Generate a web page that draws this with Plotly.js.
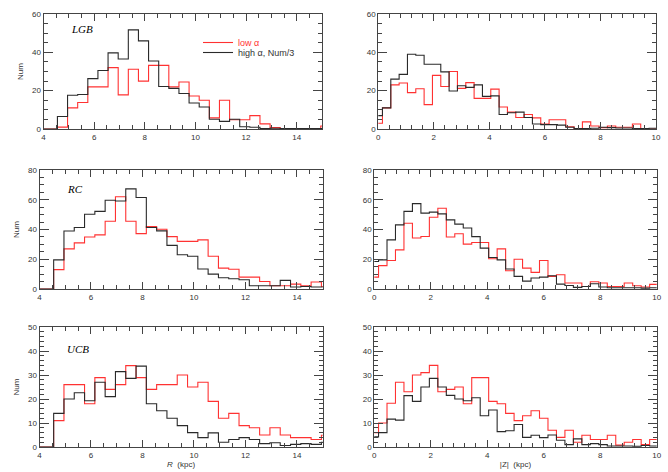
<!DOCTYPE html>
<html>
<head>
<meta charset="utf-8">
<script src="https://cdn.plot.ly/plotly-3.0.1.min.js"></script>
<style>
  html, body { margin: 0; padding: 0; background: #fff; }
  #chart { width: 668px; height: 472px; }
</style>
</head>
<body>
<div id="chart"></div>
<script>
// bin edges (kpc)
var rEdges = [3.75, 4.15, 4.55, 4.95, 5.35, 5.75, 6.15, 6.55, 6.95, 7.35, 7.75, 8.15, 8.55, 8.95, 9.35,
  9.75, 10.15, 10.55, 10.95, 11.35, 11.75, 12.15, 12.55, 12.95, 13.35, 13.75, 14.15, 14.55, 14.95, 15.35];
var zEdges = [-0.15, 0.15, 0.45, 0.75, 1.05, 1.35, 1.65, 1.95, 2.25, 2.55, 2.85, 3.15, 3.45, 3.75, 4.05,
  4.35, 4.65, 4.95, 5.25, 5.55, 5.85, 6.15, 6.45, 6.75, 7.05, 7.35, 7.65, 7.95, 8.25, 8.55, 8.85,
  9.15, 9.45, 9.75, 10.05];

// LGB
var lgbRLow  = [0, 0, 1, 11, 13.8, 22, 22, 32, 17.8, 31.2, 25, 33.2, 33.2, 22, 24.5, 17.2, 15, 5.8, 15,
  4.8, 4.8, 7, 2.7, 0.7, 0, 0.3, 0.3, 0, 1.6];
var lgbRHigh = [0, 0, 6.5, 17.6, 18, 26.3, 30.5, 39.7, 36.5, 51.7, 46, 35.5, 22.2, 21.2, 18.5, 13.6, 11.5,
  5.1, 4, 5.1, 1.2, 0.9, 0.3, 0.4, 0.3, 0.3, 0.2, 0.3, 0.3];
var lgbZLow  = [3, 11, 23, 24, 19, 21, 12.7, 28, 22.2, 30, 21.2, 24.2, 16, 16, 20.8, 11.5, 8.8, 6, 7.6,
  5.8, 2.6, 4.8, 4.8, 1.2, 0, 3.7, 1.6, 0.7, 1.6, 0.9, 0.9, 2.6, 0, 0];
var lgbZHigh = [7, 11, 26, 28.5, 39, 38.5, 33.8, 33.8, 29.8, 19.8, 22.6, 21.7, 23, 17, 17.3, 7.6, 8.5,
  8.8, 6, 2.6, 2.3, 2.3, 2, 0.9, 0.2, 0.2, 0.4, 0.9, 0.7, 0.5, 0.5, 0.2, 0.2, 0.4];

// RC
var rcRLow  = [0, 0, 13, 27, 31, 35, 36.4, 45.5, 62, 45.5, 37.2, 42, 40.2, 35.2, 32, 32, 33, 22, 14, 13.3,
  8, 8, 5, 2.2, 2.2, 3.3, 2.2, 4.7, 1.7];
var rcRHigh = [0, 0, 19.6, 39, 41.3, 50.3, 52.2, 59.7, 59.2, 67.3, 61.5, 41.3, 39.1, 29.3, 23, 22, 13.4,
  10, 7.6, 6.9, 6.2, 2.2, 2.2, 2.2, 5.8, 1.3, 1.7, 1.3, 1.3];
var rcZLow  = [8, 15.7, 19.2, 26.3, 44.2, 34.3, 35.3, 48.2, 54.3, 35, 37.1, 30.2, 31.3, 31.3, 20.3, 27,
  12.3, 20, 14, 11.2, 19.2, 8.5, 9.6, 4, 4, 1.7, 4.9, 4, 1.7, 1.7, 4, 2.2, 1.3, 3.1];
var rcZHigh = [18.5, 19.6, 33, 43.1, 52.2, 57.4, 51, 51.7, 50.5, 46.5, 43.6, 41, 35.2, 27.5, 21.2, 19.6,
  13.4, 8.5, 5.3, 7.4, 8, 8.9, 3.3, 2.4, 1.1, 1.7, 3.5, 1.3, 0.8, 0.8, 0.8, 0.8, 0.6, 0.8];

// UCB
var ucbRLow  = [0, 0, 11, 26, 26, 18, 28.9, 24, 26, 33.9, 28.9, 24, 26, 26, 30, 25, 27, 19, 12, 14, 8.9,
  8, 5, 8, 5, 3.9, 3.9, 3.1, 4.9];
var ucbRHigh = [0, 0, 14, 20, 22.6, 19.3, 27, 21, 31.4, 28.6, 33.7, 18, 15.1, 12, 8.9, 6, 3.9, 5.9, 2,
  3.1, 3.9, 3.1, 1.4, 1.8, 0.6, 1.1, 1.4, 1.1, 2];
var ucbZLow  = [6, 10, 18.2, 27, 23, 30, 31, 34, 23, 24, 25, 18, 28.9, 28.9, 19, 18, 14, 11, 13, 15.1,
  12, 7, 4, 7, 2, 4.9, 3.1, 3.1, 4.9, 0.8, 2, 3.1, 1, 3.1];
var ucbZHigh = [4.2, 6, 11.6, 11.2, 21.4, 19, 25, 28.6, 25, 21.5, 20, 19.3, 20.5, 13, 15.4, 6.4, 6.8,
  9.4, 4, 4.9, 3.9, 5, 2.8, 1, 3.4, 1, 1.4, 1, 0.4, 0.4, 0.4, 0.3, 0.6, 0.4];

var panelNames = ['LGB', 'RC', 'UCB'];
var yMax = [60, 80, 50];
var yMajor = [20, 20, 10];
var yMinor = [5, 5, 2];

var RED = 'rgb(255,50,50)';
var BLK = '#2a2a2a';

function stepY(counts) {
  return counts.concat([counts[counts.length - 1]]);
}

function histTrace(edges, counts, color, ax, name, legend) {
  return {
    x: edges, y: stepY(counts),
    type: 'scatter', mode: 'lines',
    line: { shape: 'hv', color: color, width: 1.1 },
    xaxis: 'x' + ax, yaxis: 'y' + ax,
    name: name || '', showlegend: !!name, legend: legend || 'legend',
    hoverinfo: 'skip'
  };
}

var data = [
  histTrace(rEdges, lgbRLow, RED, '', '<span style="color:rgb(255,50,50)">low α</span>', 'legend'),
  histTrace(rEdges, lgbRHigh, BLK, '', 'high α, Num/3', 'legend2'),
  histTrace(zEdges, lgbZLow, RED, '2'),
  histTrace(zEdges, lgbZHigh, BLK, '2'),
  histTrace(rEdges, rcRLow, RED, '3'),
  histTrace(rEdges, rcRHigh, BLK, '3'),
  histTrace(zEdges, rcZLow, RED, '4'),
  histTrace(zEdges, rcZHigh, BLK, '4'),
  histTrace(rEdges, ucbRLow, RED, '5'),
  histTrace(rEdges, ucbRHigh, BLK, '5'),
  histTrace(zEdges, ucbZLow, RED, '6'),
  histTrace(zEdges, ucbZHigh, BLK, '6')
];

var W = 668, H = 472;
// pixel boxes [left, right, top, bottom]
var boxes = [
  [43.5, 322, 14, 129], [378.3, 656, 14, 129],
  [39.5, 322.7, 170, 289], [374.3, 656.7, 170, 289],
  [39.5, 322.7, 327, 447], [374.3, 656.7, 327, 447]
];

var tickFont = { family: 'Liberation Sans, Arial, sans-serif', size: 8, color: '#333' };

function xAxis(i) {
  var b = boxes[i];
  var left = (i % 2 === 0);
  var ax = {
    domain: [b[0] / W, b[1] / W],
    anchor: 'y' + (i ? i + 1 : ''),
    range: left ? [4, 15] : [0, 10],
    tick0: 0, dtick: 2,
    minor: { dtick: left ? 0.5 : 0.4, ticklen: 4, tickcolor: '#444', ticks: 'inside', showgrid: false },
    ticks: 'inside', ticklen: 7, tickcolor: '#444', tickwidth: 1,
    showline: true, linecolor: '#444', linewidth: 1, mirror: 'allticks',
    showgrid: false, zeroline: false, tickfont: tickFont, fixedrange: true
  };
  if (i === 4) ax.title = { text: '<i>R</i>  (kpc)', font: tickFont, standoff: 2 };
  if (i === 5) ax.title = { text: '|Z|  (kpc)', font: tickFont, standoff: 2 };
  return ax;
}

function yAxis(i) {
  var b = boxes[i];
  var row = Math.floor(i / 2);
  var ax = {
    domain: [(H - b[3]) / H, (H - b[2]) / H],
    anchor: 'x' + (i ? i + 1 : ''),
    range: [0, yMax[row]],
    tick0: 0, dtick: yMajor[row],
    minor: { dtick: yMinor[row], ticklen: 4, tickcolor: '#444', ticks: 'inside', showgrid: false },
    ticks: 'inside', ticklen: 9, tickcolor: '#444', tickwidth: 1,
    showline: true, linecolor: '#444', linewidth: 1, mirror: 'allticks',
    showgrid: false, zeroline: false, tickfont: tickFont, fixedrange: true
  };
  if (i % 2 === 0) ax.title = { text: 'Num', font: tickFont, standoff: 7 };
  return ax;
}

var legendFont = { family: 'Liberation Sans, Arial, sans-serif', size: 9, color: '#333' };

var layout = {
  width: W, height: H,
  margin: { l: 0, r: 0, t: 0, b: 0 },
  paper_bgcolor: '#fff', plot_bgcolor: '#fff',
  showlegend: true,
  legend: {
    x: 198 / W, y: (H - 42.5) / H, xanchor: 'left', yanchor: 'middle',
    bgcolor: 'rgba(0,0,0,0)', borderwidth: 0, itemwidth: 30, font: legendFont
  },
  legend2: {
    x: 198 / W, y: (H - 52.5) / H, xanchor: 'left', yanchor: 'middle',
    bgcolor: 'rgba(0,0,0,0)', borderwidth: 0, itemwidth: 30, font: legendFont
  },
  annotations: panelNames.map(function (t, r) {
    var ax = 2 * r + 1;
    return {
      text: t, showarrow: false,
      xref: 'x' + (ax > 1 ? ax : '') + ' domain', yref: 'y' + (ax > 1 ? ax : '') + ' domain',
      x: 0.09, y: [0.87, 0.84, 0.82][r], xanchor: 'left', yanchor: 'middle',
      font: { family: 'Liberation Serif, Times New Roman, serif', size: 11, style: 'italic', color: '#000' }
    };
  })
};

for (var i = 0; i < 6; i++) {
  var s = i ? String(i + 1) : '';
  layout['xaxis' + s] = xAxis(i);
  layout['yaxis' + s] = yAxis(i);
}

Plotly.newPlot('chart', data, layout, { displayModeBar: false, staticPlot: true });
</script>
</body>
</html>
